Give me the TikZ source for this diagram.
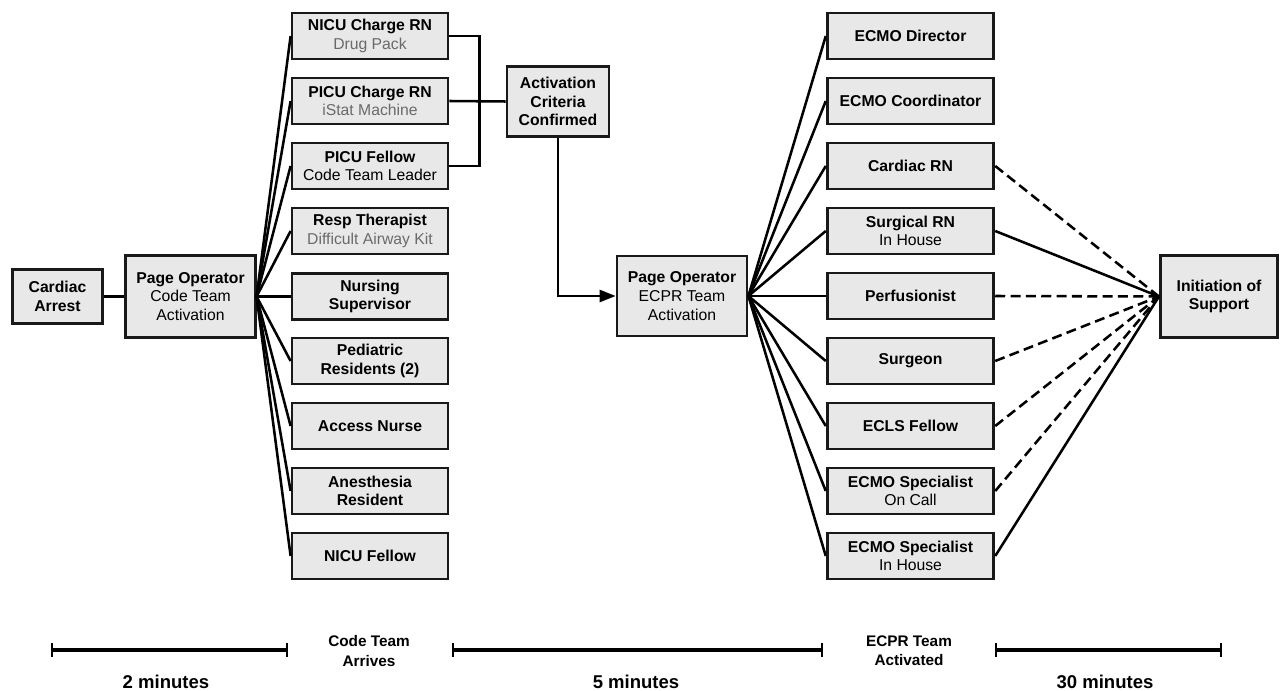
\documentclass[tikz,border=0pt]{standalone}
\usepackage{fontspec}
\setmainfont{Liberation Sans}
\usetikzlibrary{arrows.meta}
\definecolor{boxgray}{HTML}{E8E8E8}
\definecolor{kitgray}{HTML}{6A6A6A}
\newcommand{\duty}[1]{{\mdseries #1}}
\newcommand{\kit}[1]{{\mdseries\color{kitgray}#1}}

\begin{document}
\begin{tikzpicture}[
    x=0.75pt, y=-0.75pt,
    box/.style={draw=black!90, line width=2.1pt, fill=boxgray, align=center, inner sep=1pt,
        font=\bfseries\fontsize{11.8}{14}\selectfont},
    team/.style={box, minimum width=117pt, minimum height=34.5pt},
    ecmo/.style={box, minimum width=125pt, minimum height=34.5pt},
    link/.style={line width=1.9pt},
    maybe/.style={link, dash pattern=on 7.5pt off 4pt},
    span/.style={line width=2.4pt, {Bar[width=10pt,line width=1.6pt]}-{Bar[width=10pt,line width=1.6pt]}},
    tlabel/.style={font=\bfseries\fontsize{11.5}{14.3}\selectfont, align=center, inner sep=0pt}
]
  \path[use as bounding box] (0,0) rectangle (1280,691);

  \node[box, minimum width=68pt, minimum height=41pt] (arrest) at (57.5,296.5) {Cardiac\\Arrest};
  \node[box, minimum width=97pt, minimum height=61pt] (codePage) at (190.5,296.5)
    {Page Operator\\\duty{Code Team}\\\duty{Activation}};

  % code team
  \node[team] (nicuRN) at (370,36) {NICU Charge RN\\\kit{Drug Pack}};
  \node[team] (picuRN) at (370,101) {PICU Charge RN\\\kit{iStat Machine}};
  \node[team] (picuFellow) at (370,166) {PICU Fellow\\\duty{Code Team Leader}};
  \node[team] (resp) at (370,231) {Resp Therapist\\\kit{Difficult Airway Kit}};
  \node[team] (supervisor) at (370,296.5) {Nursing\\Supervisor};
  \node[team] (residents) at (370,361) {Pediatric\\Residents (2)};
  \node[team] (access) at (370,426) {Access Nurse};
  \node[team] (anesthesia) at (370,491) {Anesthesia\\Resident};
  \node[team] (nicuFellow) at (370,556) {NICU Fellow};

  \node[box, minimum width=76.5pt, minimum height=53pt] (criteria) at (558,101.5)
    {Activation\\Criteria\\Confirmed};
  \node[box, minimum width=97.5pt, minimum height=60pt] (ecprPage) at (682,296)
    {Page Operator\\\duty{ECPR Team}\\\duty{Activation}};

  % ECPR team
  \node[ecmo] (director) at (910.5,36) {ECMO Director};
  \node[ecmo] (coordinator) at (910.5,101) {ECMO Coordinator};
  \node[ecmo] (cardiacRN) at (910.5,166) {Cardiac RN};
  \node[ecmo] (surgicalRN) at (910.5,231) {Surgical RN\\\duty{In House}};
  \node[ecmo] (perfusionist) at (910.5,296) {Perfusionist};
  \node[ecmo] (surgeon) at (910.5,361) {Surgeon};
  \node[ecmo] (eclsFellow) at (910.5,426) {ECLS Fellow};
  \node[ecmo] (specOnCall) at (910.5,491) {ECMO Specialist\\\duty{On Call}};
  \node[ecmo] (specInHouse) at (910.5,556) {ECMO Specialist\\\duty{In House}};

  \node[box, minimum width=88pt, minimum height=61pt] (initiation) at (1219,296.5)
    {Initiation of\\Support};

  \draw[link] (arrest) -- (codePage);
  \foreach \r in {nicuRN,picuRN,picuFellow,resp,supervisor,residents,access,anesthesia,nicuFellow}
    \draw[link] (codePage.east) -- (\r.west);
  \draw[link] (nicuRN.east) -- ++(30,0) |- (picuFellow.east);
  \draw[link] (picuRN.east) -- (criteria.west);
  \draw[link, -{Triangle[length=12pt,width=9pt]}] (criteria.south) |- (ecprPage.west);
  \foreach \r in {director,coordinator,cardiacRN,surgicalRN,perfusionist,surgeon,eclsFellow,specOnCall,specInHouse}
    \draw[link] (ecprPage.east) -- (\r.west);
  \foreach \r in {cardiacRN,perfusionist,surgeon,eclsFellow,specOnCall}
    \draw[maybe] (\r.east) -- (initiation.west);
  \foreach \r in {surgicalRN,specInHouse}
    \draw[link] (\r.east) -- (initiation.west);

  % time line
  \coordinate (a0) at (51,650);
  \coordinate (a1) at (288,650);
  \coordinate (b0) at (452,650);
  \coordinate (b1) at (823,650);
  \coordinate (c0) at (995,650);
  \coordinate (c1) at (1222,650);
  \draw[span] (a0) -- (a1);
  \draw[span] (b0) -- (b1);
  \draw[span] (c0) -- (c1);
  \node[tlabel, font=\bfseries\fontsize{13.9}{16}\selectfont] (twoMin) at (166,682) {2 minutes};
  \node[tlabel] (arrives) at (369,651) {Code Team\\Arrives};
  \node[tlabel, font=\bfseries\fontsize{13.9}{16}\selectfont] (fiveMin) at (636,682) {5 minutes};
  \node[tlabel] (activated) at (909,651) {ECPR Team\\Activated};
  \node[tlabel, font=\bfseries\fontsize{13.9}{16}\selectfont] (thirtyMin) at (1105,682) {30 minutes};
\end{tikzpicture}
\end{document}
